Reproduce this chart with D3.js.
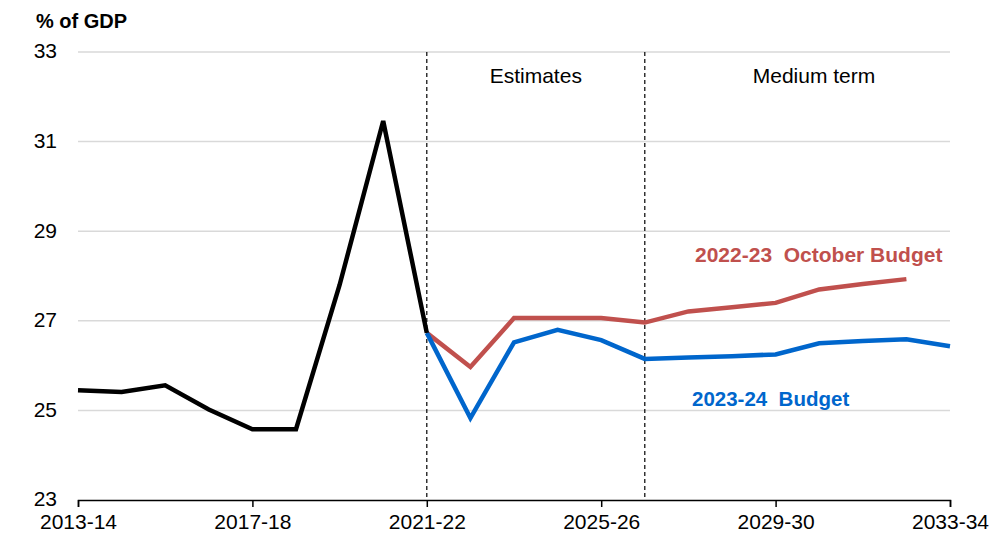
<!DOCTYPE html>
<html>
<head>
<meta charset="utf-8">
<script src="https://cdn.jsdelivr.net/npm/d3@7"></script>
<style>
  body { margin: 0; background: #fff; }
  svg { font-family: "Liberation Sans", Arial, sans-serif; }
  .grid line { stroke: #d9d9d9; stroke-width: 1.5; }
</style>
</head>
<body>
<svg width="994" height="537"></svg>
<script>
// Financial years on the x axis
let years = [];
for (let y = 2013; y <= 2033; y++) years.push(y + "-" + String(y + 1).slice(2));

// Historical outcome (black)
let actualYears = years.slice(0, 9);
let actualValues = [25.45, 25.41, 25.56, 25.02, 24.58, 24.58, 27.8, 31.46, 26.73];

// 2022-23 October Budget (red)
let octYears = years.slice(8, 20);
let octValues = [26.73, 25.97, 27.06, 27.06, 27.06, 26.96, 27.21, 27.3, 27.4, 27.7, 27.82, 27.93];

// 2023-24 Budget (blue)
let budYears = years.slice(8, 21);
let budValues = [26.73, 24.83, 26.52, 26.8, 26.57, 26.15, 26.18, 26.21, 26.25, 26.5, 26.55, 26.59, 26.43];

let yTicks = [23, 25, 27, 29, 31, 33];
let xTicks = ["2013-14", "2017-18", "2021-22", "2025-26", "2029-30", "2033-34"];
let dividers = ["2021-22", "2026-27"];

let svg = d3.select("svg"),
    margin = {top: 52, right: 44, bottom: 37, left: 78},
    width = 994 - margin.left - margin.right,
    height = 537 - margin.top - margin.bottom;

let x = d3.scalePoint().domain(years).range([0, width]);
let y = d3.scaleLinear().domain([23, 33]).range([height, 0]);

let g = svg.append("g")
    .attr("transform", "translate(" + margin.left + "," + margin.top + ")");

// Horizontal gridlines (none at the bottom, the axis sits there)
g.append("g").attr("class", "grid")
  .selectAll("line")
  .data(yTicks.filter(d => d > 23))
  .enter().append("line")
  .attr("x1", 0).attr("x2", width)
  .attr("y1", d => y(d)).attr("y2", d => y(d));

// Y tick labels
g.selectAll(".ylab")
  .data(yTicks)
  .enter().append("text")
  .attr("class", "ylab")
  .attr("x", -21).attr("y", d => y(d) - 1)
  .attr("dy", "0.35em")
  .attr("text-anchor", "end")
  .attr("font-size", 21)
  .attr("fill", "#000")
  .text(d => d);

svg.append("text")
  .attr("x", 36).attr("y", 28)
  .attr("font-size", 20).attr("font-weight", "bold")
  .text("% of GDP");

// Section dividers
g.selectAll(".divider")
  .data(dividers)
  .enter().append("line")
  .attr("x1", d => x(d)).attr("x2", d => x(d))
  .attr("y1", 0).attr("y2", height)
  .attr("stroke", "#000").attr("stroke-width", 1.2)
  .attr("stroke-dasharray", "4,3");

g.append("text")
  .attr("x", (x("2021-22") + x("2026-27")) / 2).attr("y", 31)
  .attr("text-anchor", "middle").attr("font-size", 21)
  .text("Estimates");
g.append("text")
  .attr("x", x("2033-34") - 136).attr("y", 31)
  .attr("text-anchor", "middle").attr("font-size", 21)
  .text("Medium term");

// X axis
let xAxis = d3.axisBottom(x).tickValues(xTicks).tickSize(7).tickPadding(7);
let ax = g.append("g")
  .attr("transform", "translate(0," + height + ")")
  .call(xAxis);
ax.select(".domain").attr("stroke", "#000").attr("stroke-width", 1.5);
ax.selectAll(".tick line").attr("stroke", "#000").attr("stroke-width", 1.5);
ax.selectAll(".tick text")
  .attr("font-size", 21)
  .attr("font-family", "Liberation Sans, Arial, sans-serif")
  .attr("fill", "#000");

let line = d3.line()
  .x(d => x(d[0]))
  .y(d => y(d[1]));

function drawSeries(xs, vs, colour) {
  g.append("path")
    .datum(d3.zip(xs, vs))
    .attr("fill", "none")
    .attr("stroke", colour)
    .attr("stroke-width", 4.5)
    .attr("stroke-linejoin", "miter")
    .attr("d", line);
}

drawSeries(octYears, octValues, "#c0504d");
drawSeries(budYears, budValues, "#0066cc");
drawSeries(actualYears, actualValues, "#000000");

// Series labels
g.append("text")
  .attr("x", 617).attr("y", y(28.31))
  .attr("font-size", 21).attr("font-weight", "bold")
  .attr("fill", "#c0504d")
  .attr("xml:space", "preserve")
  .text("2022-23  October Budget");
g.append("text")
  .attr("x", 614).attr("y", y(25.1))
  .attr("font-size", 20.5).attr("font-weight", "bold")
  .attr("fill", "#0066cc")
  .attr("xml:space", "preserve")
  .text("2023-24  Budget");
</script>
</body>
</html>
